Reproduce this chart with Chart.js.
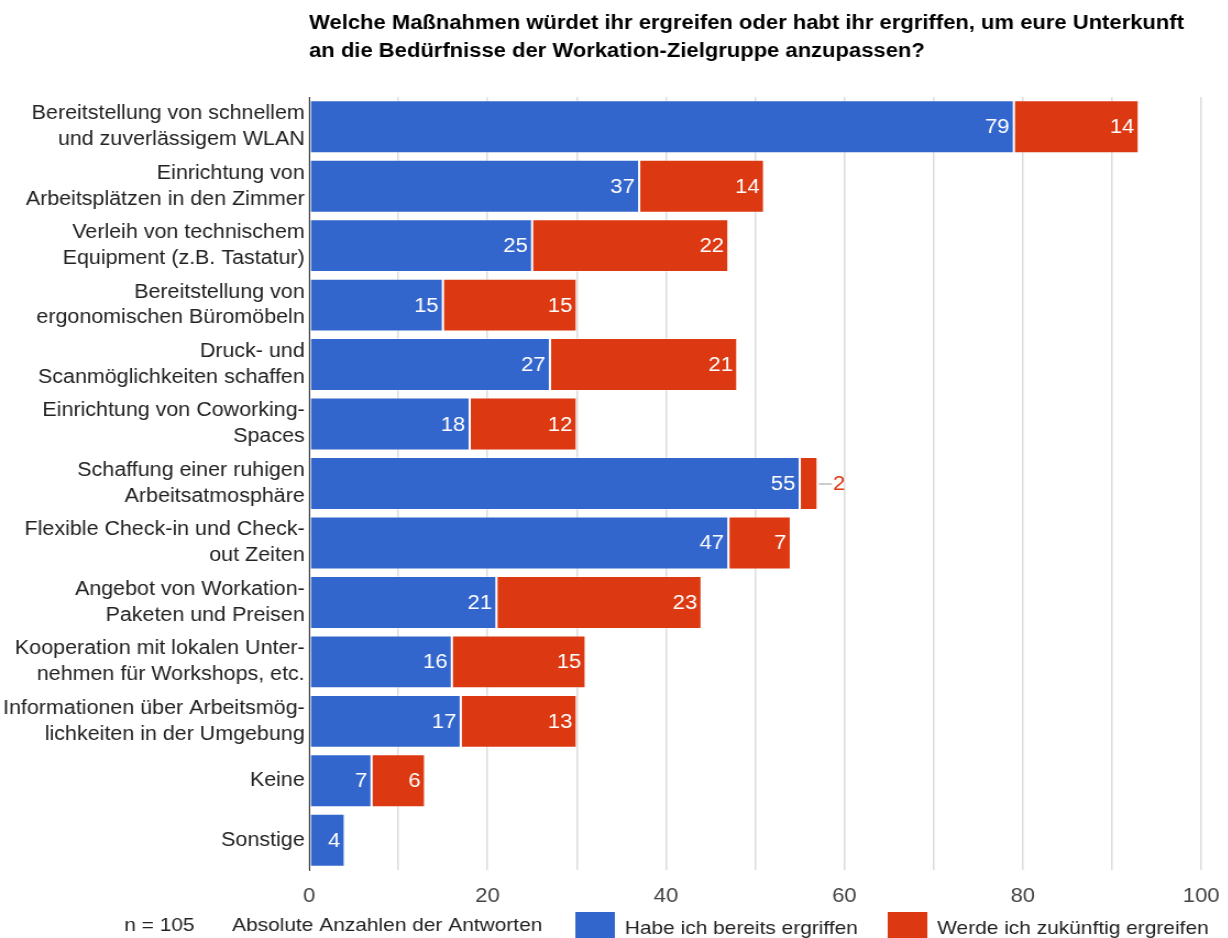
<!DOCTYPE html>
<html>
<head>
<meta charset="utf-8">
<script src="https://cdn.jsdelivr.net/npm/chart.js@4.4.1/dist/chart.umd.min.js"></script>
<style>
  html, body { margin: 0; padding: 0; background: #fff; overflow: hidden; }
  #wrap { width: 1228px; height: 938px; position: relative; overflow: hidden; }
  /* the chart is laid out narrower and stretched sideways to the full width */
  #myChart { transform: scaleX(1.1); transform-origin: 0 0; }
</style>
</head>
<body>
<div id="wrap"><canvas id="myChart" width="1116" height="938"></canvas></div>
<script>
const categories = [
  ["Bereitstellung von schnellem", "und zuverlässigem WLAN"],
  ["Einrichtung von", "Arbeitsplätzen in den Zimmer"],
  ["Verleih von technischem", "Equipment (z.B. Tastatur)"],
  ["Bereitstellung von", "ergonomischen Büromöbeln"],
  ["Druck- und", "Scanmöglichkeiten schaffen"],
  ["Einrichtung von Coworking-", "Spaces"],
  ["Schaffung einer ruhigen", "Arbeitsatmosphäre"],
  ["Flexible Check-in und Check-", "out Zeiten"],
  ["Angebot von Workation-", "Paketen und Preisen"],
  ["Kooperation mit lokalen Unter-", "nehmen für Workshops, etc."],
  ["Informationen über Arbeitsmög-", "lichkeiten in der Umgebung"],
  "Keine",
  "Sonstige",
];
const alreadyTaken = [79, 37, 25, 15, 27, 18, 55, 47, 21, 16, 17, 7, 4];
const plannedFuture = [14, 14, 22, 15, 21, 12, 2, 7, 23, 15, 13, 6, null];

const seriesNames = ["Habe ich bereits ergriffen", "Werde ich zukünftig ergreifen"];
const seriesColors = ["#3366cc", "#dc3912"];
const titleLines = [
  "Welche Maßnahmen würdet ihr ergreifen oder habt ihr ergriffen, um eure Unterkunft",
  "an die Bedürfnisse der Workation-Zielgruppe anzupassen?",
];
const sampleNote = "n = 105";
const axisTitle = "Absolute Anzahlen der Antworten";

const FONT = "'Liberation Sans', Arial, sans-serif";

// value labels inside the bars; small segments get an outside label with a leader line
const barLabels = {
  id: "barLabels",
  afterDatasetsDraw(chart) {
    const ctx = chart.ctx;
    ctx.save();
    ctx.font = "20px " + FONT;
    ctx.textBaseline = "middle";
    chart.data.datasets.forEach((ds, di) => {
      const meta = chart.getDatasetMeta(di);
      meta.data.forEach((bar, i) => {
        const v = ds.data[i];
        if (v == null) return;
        const w = ctx.measureText(String(v)).width;
        const segW = bar.x - bar.base;
        if (segW > w + 8) {
          ctx.fillStyle = "#ffffff";
          ctx.textAlign = "right";
          ctx.fillText(String(v), bar.x - 4, bar.y + 1);
        } else {
          ctx.strokeStyle = "#999";
          ctx.lineWidth = 1;
          ctx.beginPath();
          ctx.moveTo(bar.x + 1, bar.y + 0.5);
          ctx.lineTo(bar.x + 13, bar.y + 0.5);
          ctx.stroke();
          ctx.fillStyle = ds.backgroundColor;
          ctx.textAlign = "left";
          ctx.fillText(String(v), bar.x + 14, bar.y + 1);
        }
      });
    });
    ctx.restore();
  },
};

// title, sample size, axis caption and legend
const decorations = {
  id: "decorations",
  afterDraw(chart) {
    const ctx = chart.ctx;
    ctx.save();
    ctx.fillStyle = "#000";
    ctx.font = "bold 20px " + FONT;
    ctx.textAlign = "left";
    ctx.textBaseline = "middle";
    ctx.fillText(titleLines[0], 281, 23);
    ctx.fillText(titleLines[1], 281, 51);

    ctx.font = "19px " + FONT;
    ctx.fillStyle = "#222";
    ctx.fillText(sampleNote, 113, 926);
    ctx.fillText(axisTitle, 211, 926);

    const legendX = [523, 807];
    seriesNames.forEach((name, i) => {
      ctx.fillStyle = seriesColors[i];
      ctx.fillRect(legendX[i], 912, 36, 30);
      ctx.fillStyle = "#222";
      ctx.fillText(name, legendX[i] + 45, 929);
    });
    ctx.restore();
  },
};

const config = {
  type: "bar",
  data: {
    labels: categories,
    datasets: [
      {
        label: seriesNames[0],
        data: alreadyTaken,
        backgroundColor: seriesColors[0],
        borderColor: "rgba(255,255,255,0.35)",
        borderWidth: 1,
        borderSkipped: false,
        categoryPercentage: 0.89,
        barPercentage: 1,
      },
      {
        label: seriesNames[1],
        data: plannedFuture,
        backgroundColor: seriesColors[1],
        borderColor: "rgba(255,255,255,0.35)",
        borderWidth: 1,
        borderSkipped: false,
        categoryPercentage: 0.89,
        barPercentage: 1,
      },
    ],
  },
  options: {
    indexAxis: "y",
    responsive: false,
    animation: false,
    layout: { padding: { top: 97, right: 24, left: 0, bottom: 0 } },
    plugins: {
      legend: { display: false },
      tooltip: { enabled: false },
      title: { display: false },
    },
    scales: {
      x: {
        stacked: true,
        min: 0,
        max: 100,
        ticks: {
          stepSize: 10,
          color: "#444",
          font: { family: FONT, size: 20 },
          padding: 14,
          maxRotation: 0,
          callback: (v) => (v % 20 === 0 ? String(v) : ""),
        },
        grid: { color: "#dcdcdc", lineWidth: 1.5, drawTicks: false },
        border: { display: false },
        afterFit(scale) {
          scale.height = 68;
          // don't let the end labels shrink the plot area
          scale.paddingLeft = 0;
          scale.paddingRight = 0;
        },
      },
      y: {
        stacked: true,
        ticks: {
          color: "#222",
          font: { family: FONT, size: 19.5, lineHeight: 1.33 },
          padding: 4,
          autoSkip: false,
        },
        grid: { display: false, drawTicks: false },
        border: { display: true, color: "#333", width: 1 },
        afterFit(scale) { scale.width = 281; },
      },
    },
  },
  plugins: [barLabels, decorations],
};

new Chart(document.getElementById("myChart").getContext("2d"), config);
</script>
</body>
</html>
